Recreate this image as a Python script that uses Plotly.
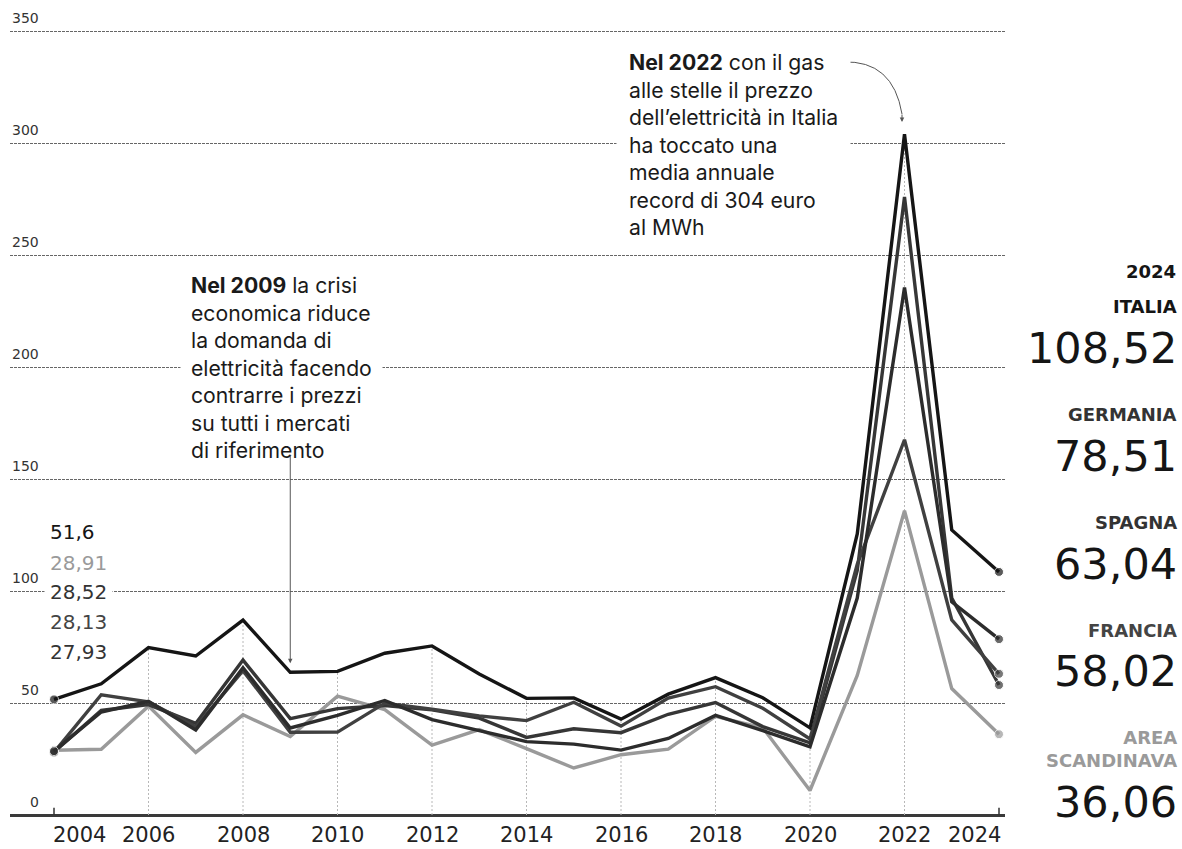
import plotly.graph_objects as go

# ---------------- data ----------------
years = list(range(2004, 2025))
italia = [51.6, 58.59, 74.75, 70.99, 86.99, 63.72, 64.12, 72.23, 75.48, 62.99, 52.08,
          52.31, 42.78, 53.95, 61.31, 52.32, 38.92, 125.46, 303.95, 127.24, 108.52]
germania = [28.52, 45.98, 50.79, 37.99, 65.76, 38.85, 44.49, 51.12, 42.60, 37.78, 32.76,
            31.63, 28.98, 34.19, 44.47, 37.67, 30.47, 96.85, 235.44, 95.18, 78.51]
spagna = [27.93, 53.68, 50.53, 39.35, 64.43, 36.96, 37.01, 49.93, 47.23, 44.26, 42.13,
          50.32, 39.67, 52.24, 57.29, 47.68, 33.96, 111.93, 167.52, 87.10, 63.04]
francia = [28.13, 46.67, 49.29, 40.88, 69.15, 43.01, 47.50, 48.89, 46.94, 43.24, 34.63,
           38.48, 36.75, 44.97, 50.20, 39.45, 32.20, 109.17, 275.88, 96.86, 58.02]
scandinavia = [28.91, 29.33, 48.59, 27.93, 44.73, 35.02, 53.06, 47.05, 31.20, 38.10, 29.61,
               20.98, 26.91, 29.41, 43.99, 38.94, 10.93, 62.31, 135.86, 56.44, 36.06]

series_names = ["ITALIA", "GERMANIA", "SPAGNA", "FRANCIA", "AREA<br>SCANDINAVA"]
series_values = [italia, germania, spagna, francia, scandinavia]
y_ticks = [0, 50, 100, 150, 200, 250, 300, 350]
x_ticks = [2004, 2006, 2008, 2010, 2012, 2014, 2016, 2018, 2020, 2022, 2024]
last_year_label = "2024"
note_2009 = ("<b>Nel 2009</b> la crisi<br>economica riduce<br>la domanda di<br>"
             "elettricità facendo<br>contrarre i prezzi<br>su tutti i mercati<br>di riferimento")
note_2022 = ("<b>Nel 2022</b> con il gas<br>alle stelle il prezzo<br>dell’elettricità in Italia<br>"
             "ha toccato una<br>media annuale<br>record di 304 euro<br>al MWh")

# ---------------- styles ----------------
line_colors = ["#151515", "#2c2c2c", "#404040", "#363636", "#9a9a9a"]
label_colors = ["#151515", "#333333", "#333333", "#444444", "#9a9a9a"]
draw_order = [4, 3, 2, 1, 0]

W, H = 1182, 849
X0PX, PXPY = 54.0, 47.25      # pixel of 2004, pixels per year
Y0PX, PXPU = 815.0, 2.24      # pixel of 0, pixels per unit


def xd(p):
    return 2004 + (p - X0PX) / PXPY


def yd(p):
    return (Y0PX - p) / PXPU


def pxp(p):
    return p / W


def pyp(p):
    return 1 - p / H


def fmt(v):
    s = f"{v:.2f}"
    if s.endswith("0"):
        s = s[:-1]
    return s.replace(".", ",")


NUMFONT = "DejaVu Sans"
TXTFONT = "Inter"
NOTE_SIZE = 21.2

fig = go.Figure()

# drop lines at even years (from 0 to the highest value of that year)
dx, dy = [], []
for yr in x_ticks[1:-1]:
    i = years.index(yr)
    top = max(s[i] for s in series_values)
    dx += [yr, yr, None]
    dy += [0, top, None]
fig.add_trace(go.Scatter(x=dx, y=dy, mode="lines",
                         line=dict(color="#b8b8b8", width=1, dash="2px,2px"),
                         hoverinfo="skip", showlegend=False))

for k in draw_order:
    vals = series_values[k]
    sizes = [9] + [0] * (len(vals) - 2) + [9]
    fig.add_trace(go.Scatter(
        x=years, y=vals, mode="lines+markers", name=series_names[k].replace("<br>", " "),
        line=dict(color=line_colors[k], width=3.4),
        marker=dict(size=sizes, color=line_colors[k]),
        showlegend=False))

shapes = []
# small ticks at first and last year
for yr in (x_ticks[0], x_ticks[-1]):
    shapes.append(dict(type="line", xref="x", yref="y", x0=yr, x1=yr, y0=0, y1=3.2,
                       line=dict(color="#333", width=1.5)))
# curved arrow for 2022 note
p0 = (xd(843), yd(62))
c1 = (xd(893), yd(60))
p1 = (xd(902), yd(114))
shapes.append(dict(type="path", xref="x", yref="y",
                   path=f"M {p0[0]},{p0[1]} Q {c1[0]},{c1[1]} {p1[0]},{p1[1]}",
                   line=dict(color="#555", width=1)))

ann = []
# y tick labels, above the grid lines, right aligned
for t in y_ticks:
    ann.append(dict(xref="paper", yref="y", x=pxp(41), y=t, text=str(t), showarrow=False,
                    xanchor="right", yanchor="bottom", yshift=3,
                    font=dict(family=NUMFONT, size=14, color="#333")))
# x tick labels
for t in x_ticks:
    anchor = "center"
    xs = 0
    if t == x_ticks[0]:
        anchor, xs = "left", -3
    elif t == x_ticks[-1]:
        anchor, xs = "right", 4
    ann.append(dict(xref="x", yref="paper", x=t, y=pyp(821), text=str(t), showarrow=False,
                    xanchor=anchor, yanchor="top", xshift=xs,
                    font=dict(family=NUMFONT, size=21, color="#222")))

# first-year values at the left
first_order = sorted(range(len(series_values)), key=lambda k: -series_values[k][0])
left_y = [532, 563, 592, 622, 652]
for pos, k in zip(left_y, first_order):
    ann.append(dict(xref="paper", yref="paper", x=pxp(44), y=pyp(pos),
                    text=fmt(series_values[k][0]), showarrow=False,
                    xanchor="left", yanchor="middle", bgcolor="white", borderpad=5,
                    font=dict(family=NUMFONT, size=20, color=label_colors[k])))

# right side labels for the last year
ann.append(dict(xref="paper", yref="paper", x=pxp(1178), y=pyp(271), text=f"<b>{last_year_label}</b>",
                showarrow=False, xanchor="right", yanchor="middle",
                font=dict(family=NUMFONT, size=18, color="#151515")))
name_y = [306, 414, 522, 630, 749]
num_y = [348, 456, 564, 671, 802]
for k in range(len(series_values)):
    ann.append(dict(xref="paper", yref="paper", x=pxp(1179), y=pyp(name_y[k]),
                    text=f"<b>{series_names[k]}</b>", showarrow=False,
                    xanchor="right", yanchor="middle", align="right",
                    font=dict(family=NUMFONT, size=18, color=label_colors[k])))
    ann.append(dict(xref="paper", yref="paper", x=pxp(1179), y=pyp(num_y[k]),
                    text=fmt(series_values[k][-1]), showarrow=False,
                    xanchor="right", yanchor="middle",
                    font=dict(family=NUMFONT, size=43, color="#151515")))

# notes
ann.append(dict(xref="x", yref="y", x=xd(180), y=yd(261), text=note_2009, showarrow=False,
                xanchor="left", yanchor="top", align="left", bgcolor="white", borderpad=10,
                font=dict(family=TXTFONT, size=NOTE_SIZE, color="#1a1a1a")))
ann.append(dict(xref="x", yref="y", x=xd(616), y=yd(36), text=note_2022, showarrow=False,
                xanchor="left", yanchor="top", align="left", bgcolor="white", borderpad=12,
                font=dict(family=TXTFONT, size=NOTE_SIZE, color="#1a1a1a")))
# arrows
i09 = years.index(2009)
ann.append(dict(xref="x", yref="y", x=2009, y=italia[i09], ax=0, ay=-218, text="",
                showarrow=True, arrowhead=2, arrowsize=0.9, arrowwidth=1, arrowcolor="#555",
                standoff=9))
ann.append(dict(xref="x", yref="y", x=p1[0], y=yd(122), ax=0, ay=-9, text="",
                showarrow=True, arrowhead=2, arrowsize=0.9, arrowwidth=1, arrowcolor="#555"))

fig.update_layout(
    width=W, height=H, margin=dict(l=0, r=0, t=0, b=0),
    paper_bgcolor="white", plot_bgcolor="white",
    font=dict(family=TXTFONT),
    shapes=shapes, annotations=ann, showlegend=False,
    xaxis=dict(domain=[10 / W, 1005 / W], range=[xd(10), xd(1005)], visible=False,
               fixedrange=True),
    yaxis=dict(domain=[0, 1], range=[yd(H), yd(0)], tickvals=y_ticks[1:],
               showticklabels=False, showgrid=True, gridcolor="#666", gridwidth=1.2,
               griddash="3px,1px", zeroline=True, zerolinecolor="#3a3a3a", zerolinewidth=3,
               showline=False, ticks="", fixedrange=True),
)

fig.write_html("out.html", config={"displayModeBar": False},
               post_script="document.body.style.margin='0px';document.body.style.overflow='hidden';")
